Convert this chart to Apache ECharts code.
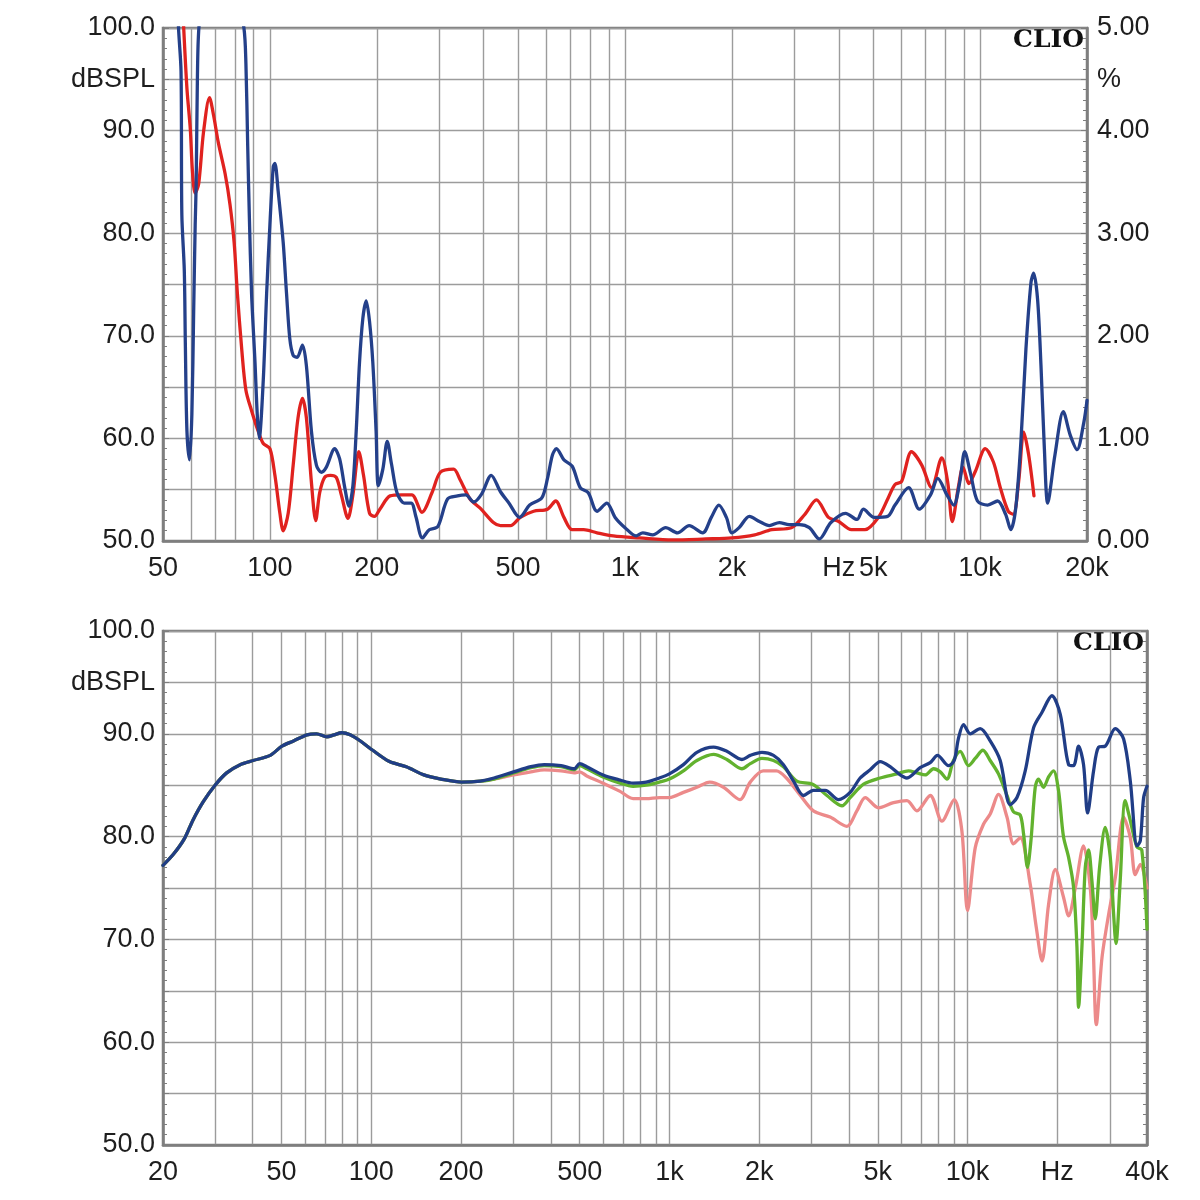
<!DOCTYPE html>
<html>
<head>
<meta charset="UTF-8">
<title>CLIO</title>
<script src="https://cdn.jsdelivr.net/npm/echarts@6.0.0/dist/echarts.min.js"></script>
<style type="text/css">
	* { margin: 0px; padding: 0px; }
	body { background: #fff; }
	#container { width: 1200px; height: 1200px; }
</style>
</head>
<body>
<div id="container"></div>
<script>
// upper plot: red / blue, [Hz, dB]
var topRed = [
	[57,101],[58.4,94.1],[59.7,90.1],[60.5,86.1],[61.6,83.9],[63,84.8],[65,89.8],[67.6,93.2],[69.4,91.5],[71.6,88.8],
	[74.8,85.8],[77.2,82.8],[79.3,79.1],[81,74.1],[83.3,68.7],[85.6,64.7],[88.8,62.7],[92.7,60.7],[95.8,59.5],[100,59.0],
	[103.3,56.4],[106.7,52.7],[109,51.0],[112.6,52.7],[116.3,57.4],[120,62.0],[123.5,63.9],[126.7,62.0],[130.9,55.7],[134.6,52.0],
	[138.1,54.7],[142.6,56.2],[148,56.4],[153.8,56.2],[158.9,54.5],[165.9,52.2],[171.3,54.5],[178,58.7],[183.5,56.4],[190.8,52.7],
	[197,52.4],[204,53.1],[218,54.4],[235,54.5],[251,54.5],[268,52.8],[286,54.7],[302,56.7],[329,57.0],[343,56.0],
	[366,54.1],[391,53.2],[426,51.8],[446,51.5],[476,51.5],[507,52.3],[553,52.9],[605,53.1],[638,53.9],[673,52.3],
	[710,51.1],[765,51.1],[834,50.8],[927,50.5],[1100,50.3],[1360,50.1],[1690,50.2],[2000,50.3],[2320,50.6],[2590,51.1],
	[2940,51.3],[3210,52.6],[3460,54.0],[3740,52.3],[4000,51.9],[4340,51.1],[4740,51.1],[5170,52.3],[5510,54.2],[5760,55.5],
	[6010,55.8],[6410,58.7],[6850,57.4],[7300,55.2],[7800,58.1],[8100,55.8],[8350,51.9],[8680,55.2],[8950,57.2],[9300,55.6],
	[9700,56.8],[10340,59.0],[10900,57.7],[11400,55.2],[12000,52.9],[12400,52.6],[12840,55.8],[13270,60.6],[13700,58.4],[14180,54.4]
];
var topBlue = [
	[55,104],[55.3,100],[56.2,95.8],[56.5,81.8],[57.4,76.4],[57.8,69.1],[58.4,60.7],[59.4,57.9],[60.3,62.4],[61,72.4],
	[61.6,80.8],[62,84.8],[62.5,95.2],[63.1,100],[70,118],[84.5,100],[85.6,96.5],[86.6,88.5],[87.5,81.8],[88.8,74.1],
	[90.8,67.4],[92.1,62.4],[93.3,60.0],[95.8,65.7],[97.9,74.1],[100,80.8],[102.2,86.5],[103.3,86.8],[105.5,84.1],[109,79.1],
	[111.4,74.1],[113.8,69.7],[116.3,68.1],[119.3,67.9],[123.5,69.1],[126.7,67.1],[130.9,60.7],[135.2,57.4],[139.6,56.7],[144.2,57.2],
	[152.2,59.0],[157.2,58.0],[162.3,55.3],[167,53.4],[171.3,55.4],[175,60.7],[178.8,67.4],[182.7,71.7],[186.7,73.4],[190.8,71.4],
	[194.9,67.4],[199.1,60.7],[202,55.4],[208,57.0],[214,59.7],[220,57.5],[228,54.7],[239,53.7],[250,53.7],[257.6,52.4],
	[268.8,50.3],[281,51.1],[297,51.4],[316.6,54.1],[337.5,54.4],[356,54.5],[375,53.8],[395,54.6],[420,56.4],[446,54.8],
	[471,53.7],[505,52.3],[539,53.5],[583,54.2],[605,56.1],[625,58.4],[641,59.0],[673,57.9],[710,57.3],[748,55.2],
	[788,54.7],[834,52.9],[889,53.7],[938,52.3],[1000,51.3],[1075,50.5],[1122,50.8],[1197,50.6],[1302,51.3],[1405,50.8],
	[1516,51.5],[1655,50.8],[1750,52.3],[1838,53.5],[1930,52.3],[2000,50.8],[2096,51.3],[2240,52.4],[2390,51.9],[2550,51.5],
	[2720,51.8],[2900,51.6],[3100,51.6],[3305,51.3],[3525,50.2],[3800,51.8],[4180,52.7],[4500,52.1],[4690,53.1],[5030,52.3],
	[5490,52.4],[5760,53.5],[6290,55.2],[6740,53.1],[7250,54.5],[7600,56.1],[8065,54.5],[8430,53.5],[8770,55.8],[9050,58.7],
	[9410,56.5],[9830,53.9],[10500,53.5],[11200,53.9],[11800,52.6],[12200,51.1],[12600,53.2],[13030,59.7],[13460,68.7],[13910,75.2],
	[14150,76.1],[14520,73.5],[14840,67.1],[15170,59.0],[15500,53.7],[16250,58.4],[17150,62.6],[17950,60.3],[18750,58.9],[19600,61.6],
	[20000,63.7]
];

// lower plot: the three curves share the low end
var lowShared = [
	[20,77.2],[21.7,78.3],[23.6,79.8],[25.2,81.6],[27.3,83.4],[29.9,85.0],[32.7,86.2],[36.3,87.0],[40.1,87.4],[45.8,87.9],
	[50.1,88.8],[54.8,89.3],[60.8,89.9],[65.5,90.0],[70.9,89.7],[75,89.9],[79.6,90.1],[84.9,89.9],[91.9,89.3],[101,88.4],
	[115,87.3],[131,86.8],[150,86.0],[171,85.6],[201,85.3],[232,85.4]
];
var lowBlue = [
	[258,85.7],[300,86.3],[343,86.8],[380,87.0],[433,86.9],[479,86.6],[500,87.1],[528,86.8],[599,86.0],[683,85.5],
	[755,85.2],[836,85.3],[925,85.7],[1000,86.1],[1114,87.0],[1236,88.2],[1406,88.7],[1558,88.3],[1750,87.5],[1867,87.9],
	[2043,88.2],[2234,87.9],[2412,87.0],[2607,85.4],[2817,84.0],[3041,84.5],[3331,84.5],[3690,83.6],[4038,84.3],[4363,85.7],
	[4716,86.5],[5094,87.3],[5500,86.8],[5946,86.0],[6262,85.7],[6935,86.7],[7495,87.2],[7930,87.9],[8635,86.9],[9020,87.4],
	[9330,89.6],[9696,90.9],[10210,90.0],[11030,90.5],[11915,89.3],[12870,87.4],[13900,83.1],[14650,83.8],[15615,86.4],[16660,90.6],
	[17780,92.1],[19190,93.7],[20470,91.9],[21830,87.0],[22680,86.9],[23580,88.8],[24500,87.0],[25280,82.3],[26480,86.4],[27510,88.7],
	[28970,88.8],[31300,90.5],[33390,89.5],[35160,85.4],[37030,79.1],[37980,79.6],[38970,83.8],[40000,84.9]
];
var lowGreen = [
	[258,85.6],[300,86.2],[343,86.7],[380,86.9],[433,86.8],[479,86.5],[500,86.9],[528,86.6],[599,85.8],[683,85.2],
	[755,84.9],[836,85.0],[925,85.3],[1000,85.6],[1114,86.4],[1236,87.4],[1406,88.0],[1558,87.5],[1750,86.6],[1867,87.1],
	[2043,87.6],[2234,87.4],[2412,86.8],[2676,85.4],[3020,85.1],[3375,84.0],[3790,83.0],[4040,83.8],[4480,85.1],[5094,85.7],
	[5800,86.1],[6340,86.4],[6760,86.2],[7210,86.0],[7690,86.6],[8100,86.3],[8530,85.6],[8970,87.4],[9450,88.3],[10080,86.9],
	[10610,87.6],[11260,88.4],[11910,87.4],[12700,86.1],[13560,84.0],[14270,82.4],[15020,82.1],[15410,80.3],[15890,77.0],[16320,79.6],
	[16870,84.8],[17300,85.6],[17990,84.8],[18700,85.8],[19430,86.4],[20190,84.5],[20980,80.0],[21820,78.0],[22680,75.1],[23280,69.3],
	[23580,63.4],[24200,69.3],[24830,77.0],[25470,78.7],[26140,75.7],[26820,72.0],[27730,77.0],[28960,80.9],[30120,78.0],[30900,72.5],
	[31470,69.6],[32520,75.7],[33790,83.5],[35130,81.6],[36980,79.0],[38430,78.7],[40000,71.0]
];
var lowPink = [
	[258,85.6],[300,86.0],[343,86.3],[380,86.5],[433,86.4],[479,86.2],[500,86.3],[528,85.9],[599,85.2],[683,84.4],
	[755,83.7],[836,83.7],[925,83.8],[1000,83.8],[1114,84.3],[1236,84.8],[1365,85.3],[1518,84.8],[1724,83.6],[1867,85.3],
	[2063,86.4],[2284,86.4],[2469,85.7],[2733,84.1],[3041,82.5],[3460,81.9],[3937,81.0],[4254,82.5],[4538,83.8],[5026,82.8],
	[5645,83.3],[6262,83.5],[6763,82.5],[7496,84.0],[8204,81.5],[9020,83.6],[9570,80.6],[10000,72.8],[10610,78.9],[11310,81.2],
	[11915,82.2],[12710,84.1],[13560,81.9],[14270,79.3],[15020,79.9],[16220,75.4],[17000,71.2],[17780,67.9],[18700,73.4],[19700,76.8],
	[20990,74.1],[21830,72.3],[22990,75.0],[24500,79.1],[25810,75.0],[26400,69.3],[27040,61.7],[28250,68.2],[29730,72.4],[31310,76.0],
	[33400,81.9],[35160,79.9],[36540,76.3],[37990,77.3],[40000,75.0]
];

// tick labels on the frequency axes (the "Hz" sits in one label slot)
var topFreqLabels = [50, 100, 200, 500, 1000, 2000, 4000, 5000, 10000, 20000];
var topHzSlot = 4000;
var lowFreqLabels = [20, 50, 100, 200, 500, 1000, 2000, 5000, 10000, 20000, 40000];
var lowHzSlot = 20000;

function gridFreqs(from, to) {
	var out = [];
	for (var dec = 10; dec <= 100000; dec *= 10) {
		for (var m = 1; m <= 9; m++) {
			var f = m * dec;
			if (f >= from && f <= to) out.push(f);
		}
	}
	return out;
}

var frameColor = '#7e7e7e';
var gridColor = '#9c9c9c';
var textColor = '#1e1e1e';
var labelFont = 'Liberation Sans';
var labelSize = 27;

function freqAxis(idx, min, max, labels, hzSlot) {
	return {
		type: 'log', logBase: 10, gridIndex: idx, min: min, max: max,
		axisLine: { show: true, lineStyle: { color: frameColor, width: 2.5 } },
		axisTick: { show: false, customValues: gridFreqs(min, max) },
		splitLine: { show: true, lineStyle: { color: gridColor, width: 1.4 } },
		axisLabel: {
			customValues: labels, showMinLabel: true, showMaxLabel: true,
			margin: 14, fontSize: labelSize, color: textColor, fontFamily: labelFont,
			formatter: function (v) {
				v = Math.round(v);
				if (v === hzSlot) return 'Hz';
				return v >= 1000 ? (v / 1000) + 'k' : String(v);
			}
		}
	};
}

function dbAxis(idx) {
	return {
		type: 'value', gridIndex: idx, min: 50, max: 100, interval: 5,
		axisLine: { show: true, lineStyle: { color: frameColor, width: 2.5 } },
		axisTick: { show: true, inside: true, length: 6, lineStyle: { color: frameColor } },
		minorTick: { show: true, splitNumber: 5, length: 4, lineStyle: { color: frameColor } },
		splitLine: { show: true, lineStyle: { color: gridColor, width: 1.4 } },
		axisLabel: {
			margin: 8, fontSize: labelSize, color: textColor, fontFamily: labelFont,
			formatter: function (v) {
				if (v === 95) return 'dBSPL';
				if (v % 10 === 0) return v.toFixed(1);
				return '';
			}
		}
	};
}

function pctAxis(idx, showLabels) {
	return {
		type: 'value', gridIndex: idx, position: 'right', min: 0, max: 5, interval: 0.5,
		axisLine: { show: true, lineStyle: { color: frameColor, width: 2.5 } },
		axisTick: { show: true, inside: true, length: 6, lineStyle: { color: frameColor } },
		minorTick: { show: true, splitNumber: 5, length: 4, lineStyle: { color: frameColor } },
		splitLine: { show: false },
		axisLabel: {
			show: showLabels, margin: 10, fontSize: labelSize, color: textColor, fontFamily: labelFont,
			formatter: function (v) {
				if (Math.abs(v - 4.5) < 1e-6) return '%';
				if (Math.abs(v - Math.round(v)) < 1e-6) return v.toFixed(2);
				return '';
			}
		}
	};
}

function curve(name, data, color, xi, yi) {
	return {
		name: name, type: 'line', xAxisIndex: xi, yAxisIndex: yi, data: data,
		showSymbol: false, smooth: 0.3, clip: true,
		lineStyle: { color: color, width: 3.3, cap: 'round', join: 'round' }, silent: true
	};
}

var dom = document.getElementById('container');
var myChart = echarts.init(dom);
var option = {
	animation: false,
	backgroundColor: '#ffffff',
	grid: [
		{ left: 163, top: 28, width: 924, height: 513, show: true, borderColor: frameColor, borderWidth: 2.5, backgroundColor: '#fff' },
		{ left: 163, top: 631, width: 984, height: 514, show: true, borderColor: frameColor, borderWidth: 2.5, backgroundColor: '#fff' }
	],
	xAxis: [
		freqAxis(0, 50, 20000, topFreqLabels, topHzSlot),
		freqAxis(1, 20, 40000, lowFreqLabels, lowHzSlot)
	],
	yAxis: [dbAxis(0), pctAxis(0, true), dbAxis(1), pctAxis(1, false)],
	graphic: [
		{ type: 'text', right: 1200 - 1084, top: 28, style: { text: 'CLIO', font: 'bold 25px "DejaVu Serif"', fill: '#111' } },
		{ type: 'text', right: 1200 - 1144, top: 631, style: { text: 'CLIO', font: 'bold 25px "DejaVu Serif"', fill: '#111' } }
	],
	series: [
		curve('red', topRed, '#e0221f', 0, 0),
		curve('blue', topBlue, '#24408a', 0, 0),
		curve('pink', lowShared.concat(lowPink), '#ec8a8a', 1, 2),
		curve('green', lowShared.concat(lowGreen), '#62b22e', 1, 2),
		curve('blue2', lowShared.concat(lowBlue), '#203d86', 1, 2)
	]
};
myChart.setOption(option);
</script>
</body>
</html>
